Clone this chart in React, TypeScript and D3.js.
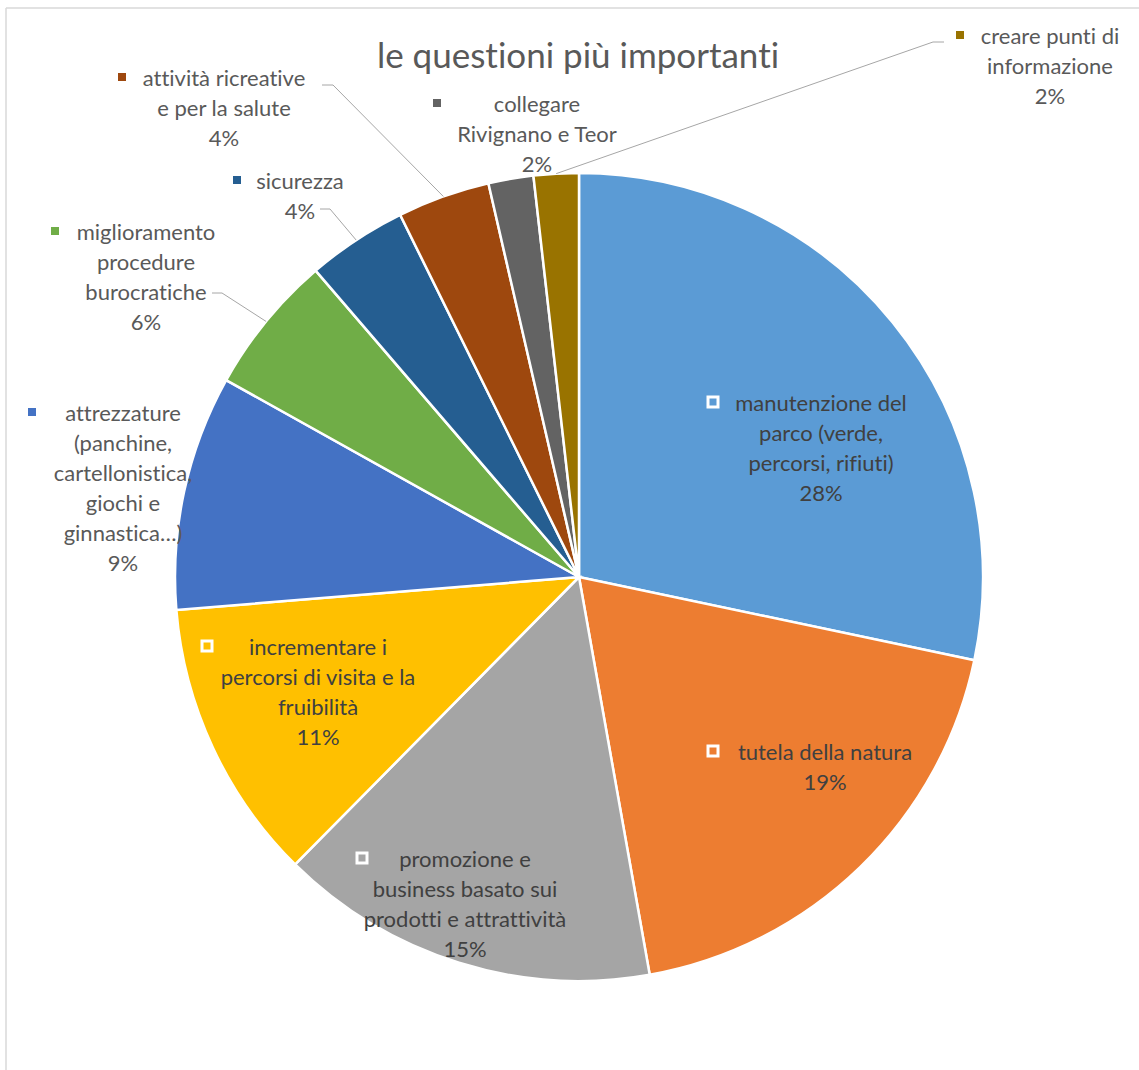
import React from "react";
import * as d3 from "d3";

const title = "le questioni più importanti";

const categories = [
  "manutenzione del\nparco (verde,\npercorsi, rifiuti)",
  "tutela della natura",
  "promozione e\nbusiness basato sui\nprodotti e attrattività",
  "incrementare i\npercorsi di visita e la\nfruibilità",
  "attrezzature\n(panchine,\ncartellonistica,\ngiochi e\nginnastica…)",
  "miglioramento\nprocedure\nburocratiche",
  "sicurezza",
  "attività ricreative\ne per la salute",
  "collegare\nRivignano e Teor",
  "creare punti di\ninformazione",
];

const values = [28.3, 18.9, 15.2, 11.3, 9.4, 5.6, 4.0, 3.7, 1.8, 1.8];

const colors = [
  "#5B9BD5", "#ED7D31", "#A5A5A5", "#FFC000", "#4472C4",
  "#70AD47", "#255E91", "#9E480E", "#636363", "#997300",
];

// label layout: [text centre x, first line centre y, marker x, inside?]
const labelLayout: [number, number, number, boolean][] = [
  [821, 402, 713, true],
  [825, 751, 713, true],
  [465, 858, 362, true],
  [318, 646, 207, true],
  [123, 412, 32, false],
  [146, 231, 55, false],
  [300, 180, 237, false],
  [224, 77, 122, false],
  [537, 103, 437, false],
  [1050, 35, 960, false],
];

// leader lines: index -> [label end x, y, elbow x, y]
const leaders: [number, number, number, number, number][] = [
  [9, 944, 42, 933, 42],
  [7, 322, 85, 333, 85],
  [6, 320, 209, 330, 209],
  [5, 212, 293, 222, 293],
];

const W = 1139;
const H = 1070;
const cx = 579;
const cy = 577;
const R = 404;
const lineH = 30;

export default function App() {
  const pie = d3.pie<number>().sort(null).value((d) => d)(values);
  const arc = d3.arc<d3.PieArcDatum<number>>().innerRadius(0).outerRadius(R);
  const font = "Lato, 'Open Sans', sans-serif";
  const textStyle = { fontVariantLigatures: "none" as const };

  return (
    <svg
      width={W}
      height={H}
      style={{ position: "absolute", left: 0, top: 0, background: "#fff" }}
    >
      <line x1={6} y1={8} x2={W} y2={8} stroke="#D9D9D9" strokeWidth={1.5} />
      <line x1={6} y1={8} x2={6} y2={H} stroke="#D9D9D9" strokeWidth={1.5} />
      <text
        x={578}
        y={54}
        textAnchor="middle"
        dominantBaseline="central"
        fontFamily={font}
        fontSize={35}
        fill="#595959"
        style={textStyle}
      >
        {title}
      </text>
      <g transform={`translate(${cx},${cy})`}>
        {pie.map((d, i) => (
          <path key={i} d={arc(d) || ""} fill={colors[i]} stroke="#fff" strokeWidth={2.5} />
        ))}
      </g>
      {leaders.map(([i, x1, y1, x2, y2]) => {
        const d = pie[i];
        const a = (d.startAngle + d.endAngle) / 2;
        const px = cx + R * Math.sin(a);
        const py = cy - R * Math.cos(a);
        return (
          <polyline
            key={i}
            points={`${x1},${y1} ${x2},${y2} ${px},${py}`}
            fill="none"
            stroke="#A6A6A6"
            strokeWidth={1}
          />
        );
      })}
      {categories.map((c, i) => {
        const [tx, ty, mx, inside] = labelLayout[i];
        const lines = [...c.split("\n"), `${Math.round(values[i])}%`];
        return (
          <g key={i}>
            {inside ? (
              <rect
                x={mx - 5}
                y={ty - 5}
                width={10}
                height={10}
                fill={colors[i]}
                stroke="#fff"
                strokeWidth={3}
              />
            ) : (
              <rect x={mx - 4} y={ty - 4} width={8} height={8} fill={colors[i]} />
            )}
            {lines.map((l, j) => (
              <text
                key={j}
                x={tx}
                y={ty + j * lineH}
                textAnchor="middle"
                dominantBaseline="central"
                fontFamily={font}
                fontSize={22}
                fill={inside ? "#404040" : "#595959"}
                style={textStyle}
              >
                {l}
              </text>
            ))}
          </g>
        );
      })}
    </svg>
  );
}
